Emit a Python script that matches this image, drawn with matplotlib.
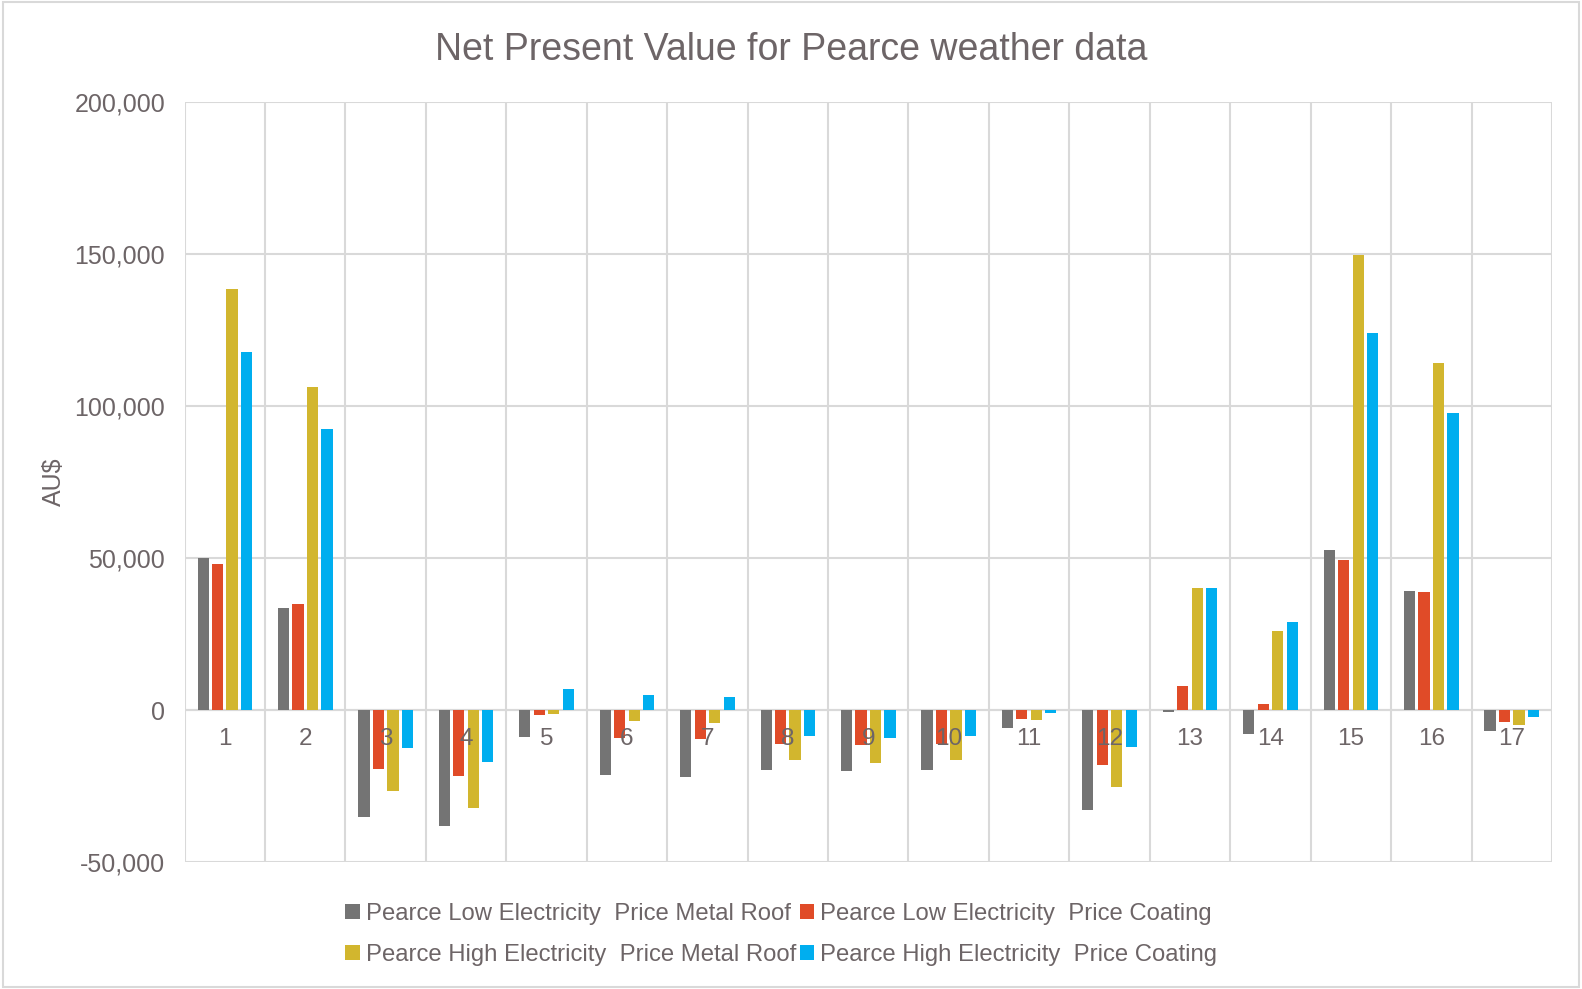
import matplotlib
matplotlib.use("Agg")
import matplotlib.pyplot as plt
from matplotlib.ticker import FuncFormatter, FixedLocator
from matplotlib.patches import Rectangle
import numpy as np

plt.rcParams['font.family'] = ['Liberation Sans', 'DejaVu Sans']

categories = [str(i) for i in range(1, 18)]
low_metal = [50100, 33600, -35200, -38100, -8800, -21500, -21900, -19700, -20200, -19700,
             -6000, -32800, -700, -8000, 52500, 39300, -7000]
low_coating = [48100, 35000, -19400, -21700, -1500, -9200, -9500, -11200, -11500, -11200,
               -3100, -18100, 8000, 2100, 49200, 38800, -3900]
high_metal = [138500, 106200, -26600, -32300, -1200, -3500, -4300, -16500, -17400, -16500,
              -3300, -25200, 40200, 25900, 149600, 114000, -5000]
high_coating = [117600, 92400, -12600, -17000, 6800, 4900, 4300, -8700, -9300, -8700,
                -900, -12300, 40200, 28900, 124000, 97700, -2400]

series_labels = [
    "Pearce Low Electricity  Price Metal Roof",
    "Pearce Low Electricity  Price Coating",
    "Pearce High Electricity  Price Metal Roof",
    "Pearce High Electricity  Price Coating",
]
series = [low_metal, low_coating, high_metal, high_coating]
colors = ['#747474', '#E04B28', '#D2B62E', '#00AEEF']
text_color = '#6d6567'
grid_color = '#D9D9D9'

fig = plt.figure(figsize=(15.82, 9.89), dpi=100)
ax = fig.add_axes([0.1167, 0.1284, 0.981 - 0.1167, 0.8969 - 0.1284])

x = np.arange(len(categories))
step = 0.18
width = 0.139
handles = []
for i, (vals, lab, col) in enumerate(zip(series, series_labels, colors)):
    h = ax.bar(x + (i - 1.5) * step, vals, width=width, color=col, label=lab, zorder=3)
    handles.append(h)

ax.set_xlim(-0.5, len(categories) - 0.5)
ax.set_ylim(-50000, 200000)
ax.yaxis.set_major_locator(FixedLocator(np.arange(-50000, 200001, 50000)))
ax.yaxis.set_major_formatter(FuncFormatter(lambda v, p: f"{v:,.0f}"))
ax.xaxis.set_major_locator(FixedLocator(np.arange(-0.5, len(categories), 1.0)))
ax.set_xticklabels([])
ax.tick_params(axis='x', length=0)
ax.tick_params(axis='y', length=0, labelsize=18, labelcolor=text_color, pad=14)
ax.grid(True, color=grid_color, linewidth=1.5, zorder=0)
for s in ax.spines.values():
    s.set_visible(False)
ax.axhline(0, color=grid_color, linewidth=1.5, zorder=2)

for xi, lab in zip(x, categories):
    ax.annotate(lab, xy=(xi, 0), xytext=(0, -21), textcoords='offset points',
                ha='center', va='center', fontsize=17.5, color=text_color, zorder=4)

ax.set_ylabel("AU$", fontsize=18, color=text_color, labelpad=6)
fig.suptitle("Net Present Value for Pearce weather data", fontsize=27,
             color=text_color, y=0.968)

order = [0, 2, 1, 3]
leg = fig.legend([handles[i] for i in order], [series_labels[i] for i in order],
                 loc='center', bbox_to_anchor=(0.4937, 0.055), ncol=2, frameon=False,
                 fontsize=17.2, handlelength=0.6, handleheight=0.6, handletextpad=0.25,
                 columnspacing=0.15, labelspacing=0.8, labelcolor=text_color)

fig.patches.append(Rectangle((0.002, 0.002), 0.996, 0.996, transform=fig.transFigure,
                             fill=False, edgecolor=grid_color, linewidth=1.5))

fig.savefig("out.png", dpi=100)
